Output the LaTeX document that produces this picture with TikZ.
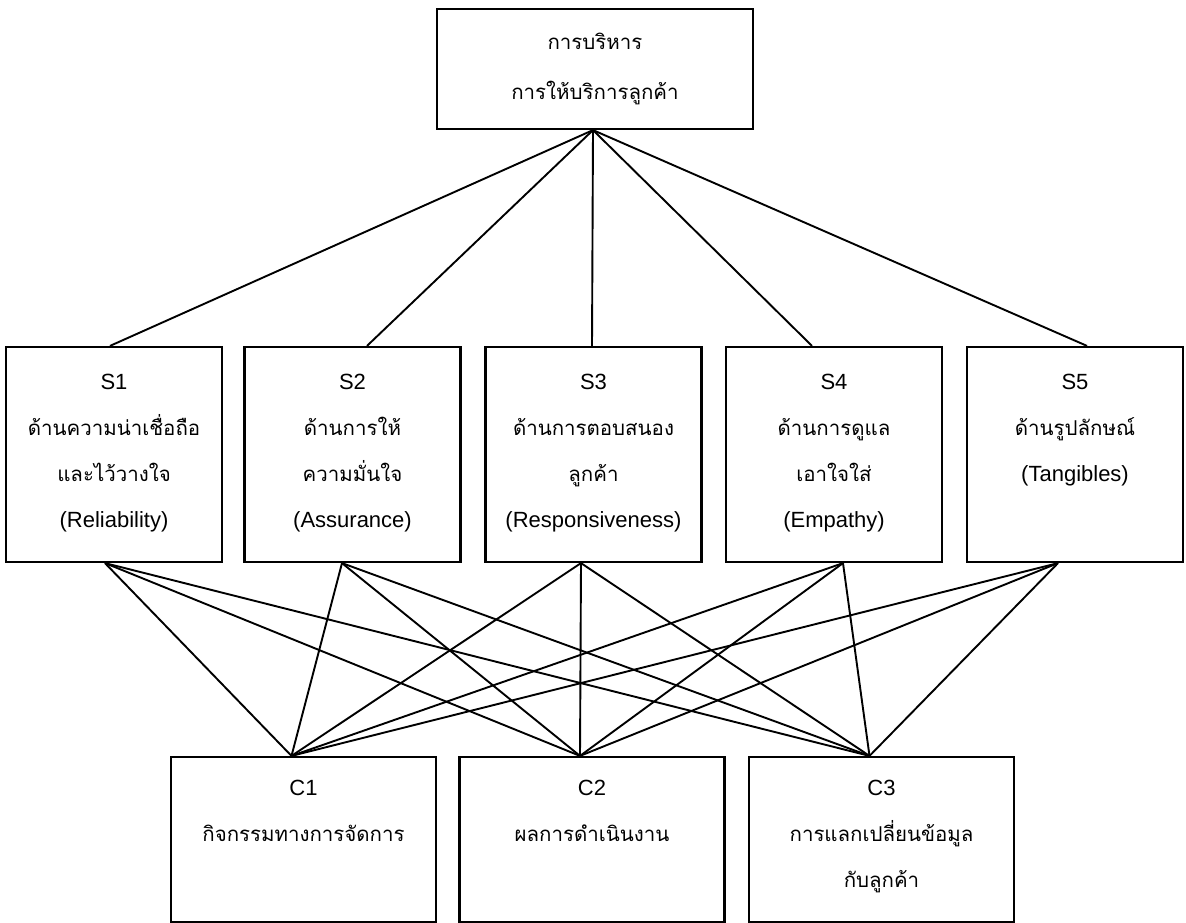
\documentclass[tikz,border=0pt]{standalone}
\usepackage{fontspec}
\setmainfont{Liberation Sans}
\newfontfamily\thaifont[Script=Thai,Scale=0.93]{Loma}

\begin{document}
\begin{tikzpicture}[x=1pt,y=-1pt,
  frame/.style={draw,line width=2.2pt,inner sep=0pt},
  sbox/.style={frame,minimum width=216pt,minimum height=215pt},
  cbox/.style={frame,minimum width=265pt,minimum height=165pt},
  words/.style={anchor=north,align=center,inner sep=0pt,font=\fontsize{22}{46}\selectfont},
  link/.style={line width=1.9pt}]
\useasboundingbox (0,0) rectangle (1186,923);

% top
\node[frame,minimum width=316pt,minimum height=120pt,align=center,
  font=\thaifont\fontsize{22}{50}\selectfont] (top) at (595,69)
  {การบริหาร\\การให้บริการลูกค้า};

% service dimensions
\node[sbox,label={[words,yshift=-28pt]north:S1\\{\thaifont ด้านความน่าเชื่อถือ}\\{\thaifont และไว้วางใจ}\\(Reliability)}] (s1) at (114,454.5) {};
\node[sbox,label={[words,yshift=-28pt]north:S2\\{\thaifont ด้านการให้}\\{\thaifont ความมั่นใจ}\\(Assurance)}] (s2) at (352.5,454.5) {};
\node[sbox,label={[words,yshift=-28pt]north:S3\\{\thaifont ด้านการตอบสนอง}\\{\thaifont ลูกค้า}\\(Responsiveness)}] (s3) at (593.5,454.5) {};
\node[sbox,label={[words,yshift=-28pt]north:S4\\{\thaifont ด้านการดูแล}\\{\thaifont เอาใจใส่}\\(Empathy)}] (s4) at (834,454.5) {};
\node[sbox,label={[words,yshift=-28pt]north:S5\\{\thaifont ด้านรูปลักษณ์}\\(Tangibles)}] (s5) at (1075,454.5) {};

% outcomes
\node[cbox,label={[words,yshift=-24pt]north:C1\\{\thaifont กิจกรรมทางการจัดการ}}] (c1) at (303.5,839.5) {};
\node[cbox,label={[words,yshift=-24pt]north:C2\\{\thaifont ผลการดำเนินงาน}}] (c2) at (592,839.5) {};
\node[cbox,label={[words,yshift=-24pt]north:C3\\{\thaifont การแลกเปลี่ยนข้อมูล}\\{\thaifont กับลูกค้า}}] (c3) at (881.5,839.5) {};

\foreach \s/\dx in {s1/-4,s2/14.5,s3/-1.5,s4/-22,s5/12}
  \draw[link] ([xshift=-2pt]top.south) -- ([xshift=\dx pt]\s.north);

\foreach \s/\dx in {s1/-9,s2/-10.5,s3/-12.5,s4/9,s5/-17}
  \foreach \c in {c1,c2,c3}
    \draw[link] ([xshift=\dx pt]\s.south) -- ([xshift=-12pt]\c.north);
\end{tikzpicture}
\end{document}
